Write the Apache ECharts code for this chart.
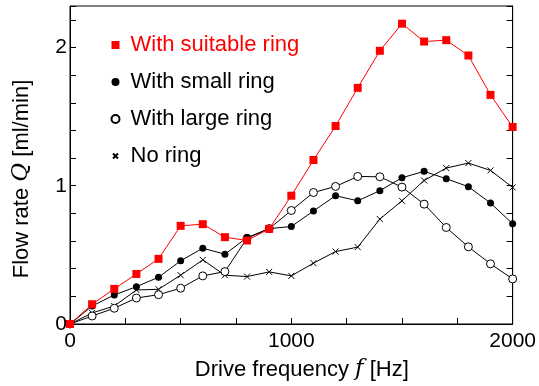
<!DOCTYPE html>
<html>
<head>
<meta charset="utf-8">
<script src="https://cdn.jsdelivr.net/npm/echarts@6/dist/echarts.min.js"></script>
<style>
html, body { margin: 0; padding: 0; background: #fff; }
#main { width: 539px; height: 386px; }
</style>
</head>
<body>
<div id="main"></div>
<script>
// drive frequency [Hz]
var freq = [0, 100, 200, 300, 400, 500, 600, 700, 800, 900, 1000,
    1100, 1200, 1300, 1400, 1500, 1600, 1700, 1800, 1900, 2000];

// flow rate [ml/min]
var suitableRing = [0, 0.143, 0.254, 0.362, 0.471, 0.71, 0.722, 0.628, 0.604, 0.688, 0.928,
    1.186, 1.432, 1.708, 1.976, 2.172, 2.043, 2.053, 1.942, 1.657, 1.425];
var smallRing = [0, 0.13, 0.21, 0.27, 0.338, 0.457, 0.548, 0.505, 0.625, 0.69, 0.705,
    0.817, 0.928, 0.891, 0.964, 1.058, 1.104, 1.051, 0.993, 0.875, 0.725];
var largeRing = [0, 0.058, 0.114, 0.188, 0.212, 0.259, 0.348, 0.379, 0.62, 0.69, 0.821,
    0.951, 0.995, 1.067, 1.065, 0.99, 0.867, 0.698, 0.558, 0.435, 0.326];
var noRing = [0, 0.08, 0.13, 0.246, 0.251, 0.353, 0.464, 0.353, 0.343, 0.377, 0.348,
    0.44, 0.524, 0.556, 0.759, 0.891, 1.038, 1.128, 1.164, 1.111, 0.988];

var xLabels = [0, 1000, 2000];
var yLabels = [0, 1, 2];

function pairs(ys) {
    return freq.map(function (f, i) { return [f, ys[i]]; });
}

var chart = echarts.init(document.getElementById('main'));
var font = 'Liberation Sans, Arial, sans-serif';
var crossPath = 'path://M0,0L10,10M10,0L0,10';
var crossIcon = 'path://M-3,-3M0,0L10,10M10,0L0,10M13,13';

var option = {
    animation: false,
    textStyle: { fontFamily: font },
    grid: { left: 70, right: 23, top: 6, bottom: 62, show: true, borderColor: '#000', borderWidth: 1 },
    legend: {
        orient: 'vertical',
        left: 104,
        top: 29,
        itemGap: 15,
        itemWidth: 8,
        itemHeight: 8,
        textStyle: { fontSize: 22, color: '#000', fontFamily: font, padding: [0, 0, 0, 6] },
        data: [
            { name: 'With suitable ring', icon: 'rect', textStyle: { color: '#ff0000' } },
            { name: 'With small ring', icon: 'circle' },
            { name: 'With large ring', icon: 'circle' },
            { name: 'No ring', icon: crossIcon }
        ]
    },
    xAxis: {
        type: 'value',
        min: 0, max: 2000, interval: 250,
        name: 'Drive frequency {f|f} [Hz]',
        nameLocation: 'middle',
        nameGap: 34,
        nameTextStyle: {
            fontSize: 22, color: '#000', fontFamily: font, padding: [0, 0, 0, 21],
            rich: { f: { fontSize: 23, fontStyle: 'italic', fontFamily: 'DejaVu Serif, serif', color: '#000' } }
        },
        axisLine: { lineStyle: { color: '#000' } },
        axisTick: { inside: true, length: 6, lineStyle: { color: '#000' } },
        splitLine: { show: false },
        axisLabel: {
            fontSize: 21, color: '#000', margin: 7,
            formatter: function (v) { return xLabels.indexOf(v) >= 0 ? String(v) : ''; }
        }
    },
    yAxis: [{
        type: 'value',
        min: 0, max: 2.3, interval: 0.2,
        name: 'Flow rate {q|Q} [ml/min]',
        nameLocation: 'middle',
        nameGap: 37,
        nameTextStyle: {
            fontSize: 22, color: '#000', fontFamily: font, padding: [0, 28, 0, 0],
            rich: { q: { fontSize: 23, fontStyle: 'italic', fontFamily: 'DejaVu Serif, serif', color: '#000' } }
        },
        axisLine: { show: true, lineStyle: { color: '#000' } },
        axisTick: { show: true, inside: true, length: 6, lineStyle: { color: '#000' } },
        splitLine: { show: false },
        axisLabel: {
            fontSize: 21, color: '#000', margin: 3,
            formatter: function (v) {
                var r = Math.round(v);
                return (Math.abs(v - r) < 1e-6 && yLabels.indexOf(r) >= 0) ? String(r) : '';
            }
        }
    }, {
        type: 'value',
        position: 'right',
        min: 0, max: 2.3, interval: 0.2,
        axisLine: { show: true, lineStyle: { color: '#000' } },
        axisTick: { show: true, inside: true, length: 6, lineStyle: { color: '#000' } },
        splitLine: { show: false },
        axisLabel: { show: false }
    }],
    series: [{
        name: 'No ring',
        type: 'line',
        data: pairs(noRing),
        symbol: crossPath,
        symbolSize: 6,
        lineStyle: { color: '#000', width: 1 },
        itemStyle: { color: 'none', borderColor: '#000', borderWidth: 1 },
        z: 2
    }, {
        name: 'With large ring',
        type: 'line',
        data: pairs(largeRing),
        symbol: 'circle',
        symbolSize: 8,
        lineStyle: { color: '#000', width: 1 },
        itemStyle: { color: '#fff', borderColor: '#000', borderWidth: 1 },
        z: 3
    }, {
        name: 'With small ring',
        type: 'line',
        data: pairs(smallRing),
        symbol: 'circle',
        symbolSize: 7,
        lineStyle: { color: '#000', width: 1 },
        itemStyle: { color: '#000', borderColor: '#000', borderWidth: 0 },
        z: 4
    }, {
        name: 'With suitable ring',
        type: 'line',
        data: pairs(suitableRing),
        symbol: 'rect',
        symbolSize: 8,
        lineStyle: { color: '#ff0000', width: 1 },
        itemStyle: { color: '#ff0000', borderWidth: 0 },
        z: 5
    }]
};

chart.setOption(option);
</script>
</body>
</html>
